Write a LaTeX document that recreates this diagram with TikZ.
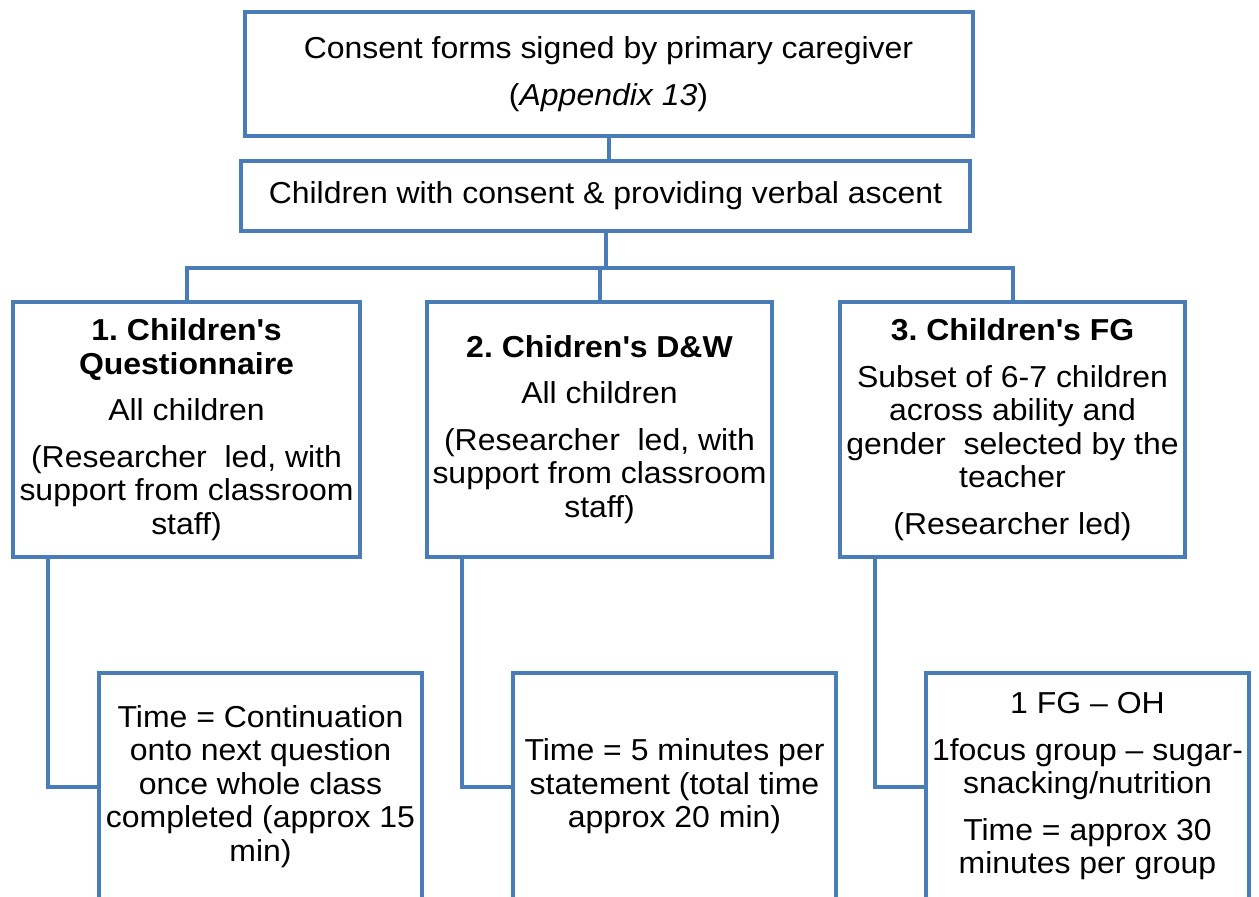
\documentclass[tikz,border=0pt]{standalone}
\usepackage{fontspec}
\setmainfont{Liberation Sans}[FakeStretch=1.055]
\definecolor{boxblue}{RGB}{74,124,183}
\newcommand{\sq}{\textquotesingle}
\begin{document}
\frenchspacing
\begin{tikzpicture}[x=1pt,y=-1pt,
  box/.style={draw=boxblue, line width=4pt, rectangle, inner sep=0pt,
    align=center, line join=miter, font=\fontsize{30.3}{33.5}\selectfont},
  link/.style={draw=boxblue, line width=4pt, line join=miter}]
\useasboundingbox (0,0) rectangle (1259,897);

% top two boxes
\node[box, minimum width=728, minimum height=124] (consent) at (608.5,74)
  {Consent forms signed by primary caregiver\\[13pt](\textit{Appendix 13})};
\node[box, minimum width=729, minimum height=70] (ascent) at (605.5,196)
  {Children with consent \& providing verbal ascent};

% three study strands
\node[box, minimum width=347, minimum height=255] (quest) at (186.5,429.5)
  {\textbf{1. Children\sq s}\\\textbf{Questionnaire}\\[13pt]All children\\[13pt](Researcher\ \ led, with\\support from classroom\\staff)};
\node[box, minimum width=345, minimum height=255] (dw) at (599.5,429.5)
  {\textbf{2. Chidren\sq s D\&W}\\[13pt]All children\\[13pt](Researcher\ \ led, with\\support from classroom\\staff)};
\node[box, minimum width=345, minimum height=255] (fg) at (1012.5,429.5)
  {\textbf{3. Children\sq s FG}\\[13pt]Subset of 6-7 children\\across ability and\\gender\ \ selected by the\\teacher\\[13pt](Researcher led)};

% timing boxes
\node[box, minimum width=323, minimum height=227] (tq) at (260.5,786.5)
  {Time = Continuation\\onto next question\\once whole class\\completed (approx 15\\min)};
\node[box, minimum width=323, minimum height=227] (tdw) at (674.5,786.5)
  {Time = 5 minutes per\\statement (total time\\approx 20 min)};
\node[box, minimum width=323, minimum height=227] (tfg) at (1087.5,786.5)
  {1 FG – OH\\[13pt]1focus group – sugar-\\snacking/nutrition\\[13pt]Time = approx 30\\minutes per group};

% connectors
\coordinate (bus) at (600,268);
\draw[link] (consent.south) -- (consent.south |- ascent.north);
\draw[link] (ascent.south) -- (ascent.south |- bus);
\draw[link] (quest.north) |- (bus) -| (fg.north);
\draw[link] (dw.north) -- (dw.north |- bus);
\draw[link] ([xshift=-138.5pt]quest.south) |- (tq.west);
\draw[link] ([xshift=-137.5pt]dw.south) |- (tdw.west);
\draw[link] ([xshift=-137.5pt]fg.south) |- (tfg.west);
\end{tikzpicture}
\end{document}
